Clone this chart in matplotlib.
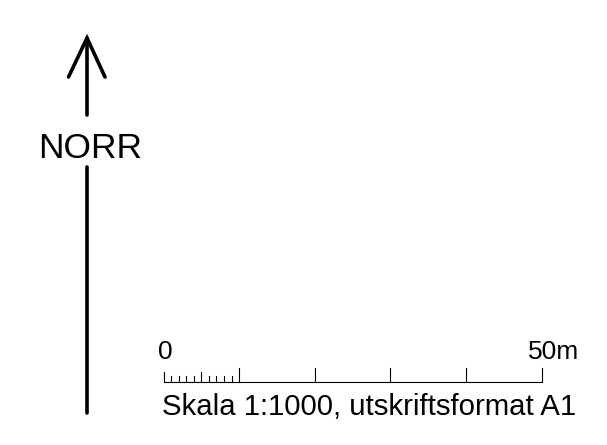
import matplotlib
matplotlib.use("Agg")
import matplotlib.pyplot as plt

plt.rcParams['font.family'] = ['Liberation Sans', 'DejaVu Sans']

# scale bar, in metres
bar_length = 50
major_ticks = [10, 20, 30, 40, 50]
mid_ticks = [0, 5]
minor_ticks = [1, 2, 3, 4, 6, 7, 8, 9]
start_label = "0"
end_label = "50m"
caption = "Skala 1:1000, utskriftsformat A1"
north_label = "NORR"

W, H = 607, 445
fig = plt.figure(figsize=(W / 100, H / 100), dpi=100)

# north arrow, drawn in pixel units
ax = fig.add_axes([0, 0, 1, 1])
ax.set_xlim(0, W)
ax.set_ylim(H, 0)
ax.axis("off")
lw = 2.6
ax.plot([87, 87], [38, 115], color='black', lw=lw, solid_capstyle='round')
ax.plot([68.5, 87, 105], [77, 38, 77], color='black', lw=lw,
        solid_capstyle='round', solid_joinstyle='miter')
ax.plot([87, 87], [167, 413], color='black', lw=lw, solid_capstyle='round')
ax.text(90.5, 158.5, north_label, ha='center', va='baseline', fontsize=25.5)

# scale bar axes: x in metres, y in pixels above the baseline
x0, x1, base = 163.5, 541.5, 382
sax = fig.add_axes([x0 / W, (H - base) / H, (x1 - x0) / W, 14 / H])
sax.set_xlim(0, bar_length)
sax.set_ylim(0, 14)
sax.axis("off")
tlw = 0.8
sax.plot([0, bar_length], [0, 0], color='black', lw=tlw, clip_on=False)
for t in major_ticks:
    sax.plot([t, t], [0, 14], color='black', lw=tlw, clip_on=False)
for t in mid_ticks:
    sax.plot([t, t], [0, 10], color='black', lw=tlw, clip_on=False)
for t in minor_ticks:
    sax.plot([t, t], [0, 6], color='black', lw=tlw, clip_on=False)

sax.annotate(start_label, xy=(0, 0), xytext=(1, 16.5), textcoords='offset points',
             ha='center', va='baseline', fontsize=19)
sax.annotate(end_label, xy=(bar_length, 0), xytext=(-10, 16.5),
             textcoords='offset points', ha='left', va='baseline', fontsize=19)
sax.annotate(caption, xy=(0, 0), xytext=(-1, -24), textcoords='offset points',
             ha='left', va='baseline', fontsize=21.2)

fig.savefig("out.png", dpi=100, facecolor='white')
